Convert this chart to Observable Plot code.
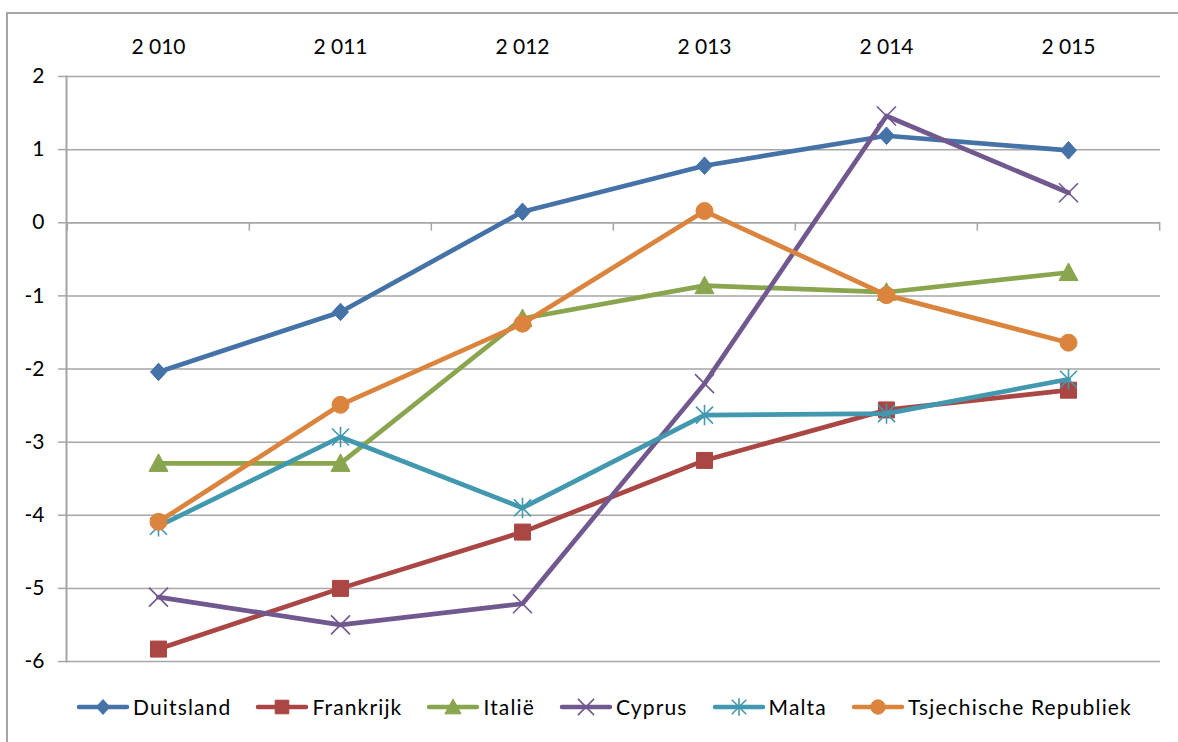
<!DOCTYPE html>
<html>
<head>
<meta charset="utf-8">
<script src="https://cdn.jsdelivr.net/npm/d3@7"></script>
<script src="https://cdn.jsdelivr.net/npm/@observablehq/plot@0.6"></script>
<style>
  html, body { margin: 0; padding: 0; background: #fff; }
  #wrap { position: relative; width: 1178px; height: 742px; overflow: hidden; background: #fff; font-family: Lato, "Open Sans", sans-serif; }
  #border { position: absolute; left: 6px; top: 12px; width: 1300px; height: 900px; border: 2px solid #a6a6a6; box-sizing: border-box; }
  #chart { position: absolute; left: 0; top: 0; }
  #legend { position: absolute; left: 76px; top: 694px; display: flex; align-items: center; font-size: 21px; color: #000; }
  #legend .item { display: flex; align-items: center; margin-right: 24px; }
  #legend span { margin-left: 3px; letter-spacing: 1.15px; }
</style>
</head>
<body>
<div id="wrap">
  <div id="border"></div>
  <div id="chart"></div>
  <div id="legend"></div>
</div>
<script>
// ---- data ----
const years = ["2 010", "2 011", "2 012", "2 013", "2 014", "2 015"];
const seriesNames = ["Duitsland", "Frankrijk", "Italië", "Cyprus", "Malta", "Tsjechische Republiek"];
const duitsland = [-2.04, -1.22, 0.15, 0.78, 1.19, 0.99];
const frankrijk = [-5.83, -5.00, -4.23, -3.25, -2.56, -2.29];
const italie    = [-3.29, -3.29, -1.31, -0.86, -0.95, -0.68];
const cyprus    = [-5.12, -5.50, -5.21, -2.20, 1.46, 0.41];
const malta     = [-4.15, -2.93, -3.90, -2.63, -2.61, -2.14];
const tsjechie  = [-4.09, -2.49, -1.38, 0.16, -0.99, -1.64];
const yTicks = [-6, -5, -4, -3, -2, -1, 0, 1, 2];

// ---- styles ----
const colors = ["#4572A7", "#AA4643", "#89A54E", "#71588F", "#4198AF", "#DB843D"];
const sym = (fn) => ({ draw(ctx, size) { const r = Math.sqrt(size / Math.PI); fn(ctx, r); } });
const symbols = [
  sym((c, r) => { c.moveTo(0, -r * 1.1); c.lineTo(r, 0); c.lineTo(0, r * 1.1); c.lineTo(-r, 0); c.closePath(); }),
  sym((c, r) => { c.rect(-r, -r, 2 * r, 2 * r); }),
  sym((c, r) => { c.moveTo(0, -r); c.lineTo(r, r * 0.85); c.lineTo(-r, r * 0.85); c.closePath(); }),
  sym((c, r) => { c.moveTo(-r, -r); c.lineTo(r, r); c.moveTo(r, -r); c.lineTo(-r, r); }),
  sym((c, r) => { c.moveTo(-r, -r); c.lineTo(r, r); c.moveTo(r, -r); c.lineTo(-r, r); c.moveTo(0, -r * 1.2); c.lineTo(0, r * 1.2); }),
  sym((c, r) => { c.moveTo(r, 0); c.arc(0, 0, r, 0, 2 * Math.PI); c.closePath(); })
];
const filled = [true, true, true, false, false, true];
const radii = [8, 8, 9.5, 9.5, 8.5, 8.5];

const values = [duitsland, frankrijk, italie, cyprus, malta, tsjechie];
const data = seriesNames.map((name, i) => years.map((year, j) => ({ name, year, value: values[i][j] })));

const left = 66, right = 1160, width = 1178;
const step = (right - left) / years.length;
const gray = "#a6a6a6";

const marks = [
  Plot.gridY(yTicks, { stroke: gray, strokeOpacity: 1, strokeWidth: 1.5 }),
  Plot.axisY(yTicks, { tickSize: 8, tickPadding: 14, stroke: gray, strokeWidth: 1.5, fill: "#000", tickFormat: d => d < 0 ? "-" + Math.abs(d) : String(d) }),
  Plot.axisX({ anchor: "top", tickSize: 0, tickPadding: 23, fill: "#000" }),
  Plot.frame({ anchor: "left", stroke: gray, strokeWidth: 2 }),
  Plot.ruleY([0], { stroke: gray, strokeWidth: 1.5 }),
  Plot.ruleX(years, { x: d => d, dx: -step / 2, y1: 0, y2: -0.115, stroke: gray, strokeWidth: 1.5 }),
  Plot.ruleX(years.slice(-1), { x: d => d, dx: step / 2, y1: 0, y2: -0.115, stroke: gray, strokeWidth: 1.5 })
];
data.forEach((rows, i) => {
  marks.push(Plot.line(rows, { x: "year", y: "value", stroke: colors[i], strokeWidth: 4.7, strokeLinejoin: "round", strokeLinecap: "round" }));
  marks.push(Plot.dot(rows, {
    x: "year", y: "value", r: radii[i], symbol: symbols[i],
    fill: filled[i] ? colors[i] : "none", stroke: colors[i], strokeWidth: filled[i] ? 1 : 1.6
  }));
});

const chart = Plot.plot({
  width, height: 680,
  marginLeft: left, marginRight: width - right, marginTop: 76, marginBottom: 19,
  style: { background: "transparent", fontFamily: "Lato, 'Open Sans', sans-serif", fontSize: "21px", color: "#000" },
  x: { type: "point", domain: years, padding: 0.5, label: null },
  y: { domain: [-6, 2], label: null },
  marks
});
document.getElementById("chart").appendChild(chart);

// ---- legend ----
const legend = d3.select("#legend");
seriesNames.forEach((name, i) => {
  const item = legend.append("div").attr("class", "item");
  const svg = item.append("svg").attr("width", 54).attr("height", 22);
  svg.append("line").attr("x1", 3).attr("x2", 51).attr("y1", 11).attr("y2", 11)
    .attr("stroke", colors[i]).attr("stroke-width", 4.5).attr("stroke-linecap", "round");
  svg.append("path").attr("transform", "translate(27,11)")
    .attr("d", d3.symbol(symbols[i], Math.PI * Math.pow(radii[i] * 0.85, 2))())
    .attr("fill", filled[i] ? colors[i] : "none").attr("stroke", colors[i]).attr("stroke-width", filled[i] ? 1 : 1.6);
  item.append("span").text(name);
});
</script>
</body>
</html>
